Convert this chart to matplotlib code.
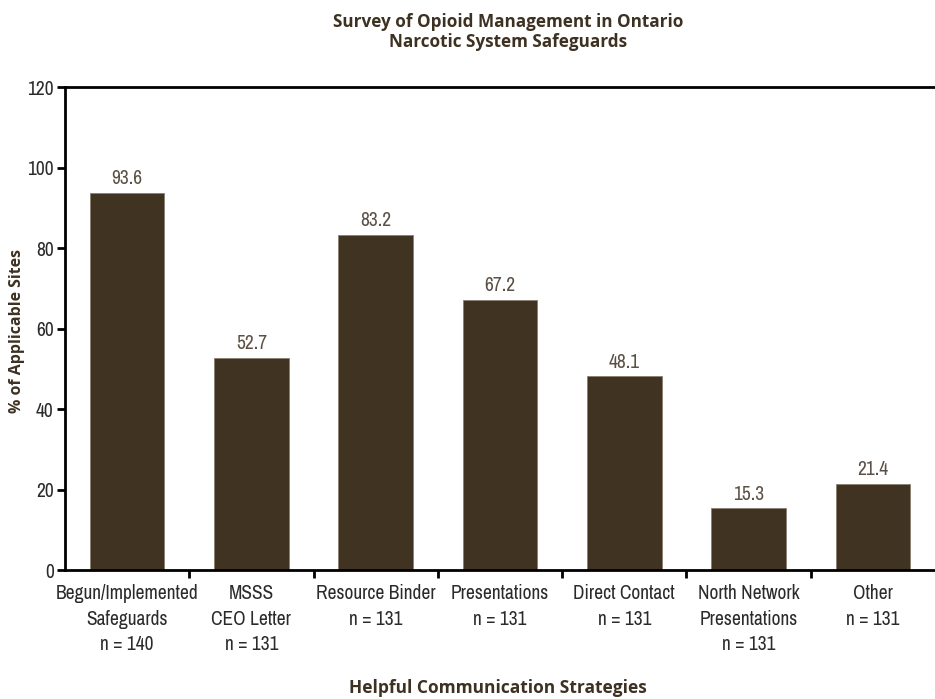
import matplotlib
matplotlib.use("Agg")
import matplotlib.pyplot as plt
from matplotlib import font_manager
import numpy as np

# datos del grafico
categories = [
    "Begun/Implemented\nSafeguards\nn = 140",
    "MSSS\nCEO Letter\nn = 131",
    "Resource Binder\nn = 131",
    "Presentations\nn = 131",
    "Direct Contact\nn = 131",
    "North Network\nPresentations\nn = 131",
    "Other\nn = 131",
]
values = [93.6, 52.7, 83.2, 67.2, 48.1, 15.3, 21.4]
yticks = [0, 20, 40, 60, 80, 100, 120]

bar_color = "#403322"
text_color = "#2b2b2b"

# buscar una fuente condensada si existe
installed = sorted({f.name for f in font_manager.fontManager.ttflist})
cond = [n for n in installed if "Condensed" in n or "Narrow" in n]
if cond:
    narrow = [cond[0], "DejaVu Sans"]
    tick_size = 14
else:
    narrow = ["Roboto", "DejaVu Sans"]
    tick_size = 11
title_font = ["Open Sans", "DejaVu Sans"]

fig = plt.figure(figsize=(9.35, 6.99), dpi=100)
ax = fig.add_axes([0.0695, 0.1845, 0.9305, 0.691])

x = np.arange(len(values))
ax.bar(x, values, width=0.6, color=bar_color, edgecolor="#8a8070", linewidth=0.6)

for xi, v in zip(x, values):
    ax.text(xi, v + 1.2, f"{v:.1f}", ha="center", va="bottom",
            fontsize=tick_size, color="#5b5045", family=narrow)

ax.set_xlim(-0.5, len(values) - 0.5)
ax.set_ylim(0, 120)
ax.set_yticks(yticks)
ax.set_yticklabels([str(t) for t in yticks], family=narrow, fontsize=tick_size, color=text_color)

ax.set_xticks(x)
ax.set_xticklabels(categories, family=narrow, fontsize=tick_size, color=text_color, linespacing=1.45)
ax.set_xticks(np.arange(0.5, len(values) - 1, 1.0), minor=True)
ax.tick_params(axis="x", which="major", length=0, pad=10)
ax.tick_params(axis="x", which="minor", length=6, width=2, direction="out", color="black")
ax.tick_params(axis="y", length=6, width=2, direction="out", pad=2)

for side in ["left", "bottom", "top"]:
    ax.spines[side].set_linewidth(2)
    ax.spines[side].set_color("black")
ax.spines["right"].set_visible(False)

fig.text(0.018, 0.527, "% of Applicable Sites", rotation=90, ha="center", va="center",
         family=title_font, fontweight="bold", fontsize=11.4, color="#3d3122")

fig.text(0.543, 0.954, "Survey of Opioid Management in Ontario\nNarcotic System Safeguards",
         ha="center", va="center", family=title_font, fontweight="bold",
         fontsize=12.3, color="#3d3122", linespacing=1.15)
fig.text(0.533, 0.016, "Helpful Communication Strategies", ha="center", va="center",
         family=title_font, fontweight="bold", fontsize=12.5, color="#3d3122")

fig.savefig("out.png", dpi=100)
plt.close(fig)
